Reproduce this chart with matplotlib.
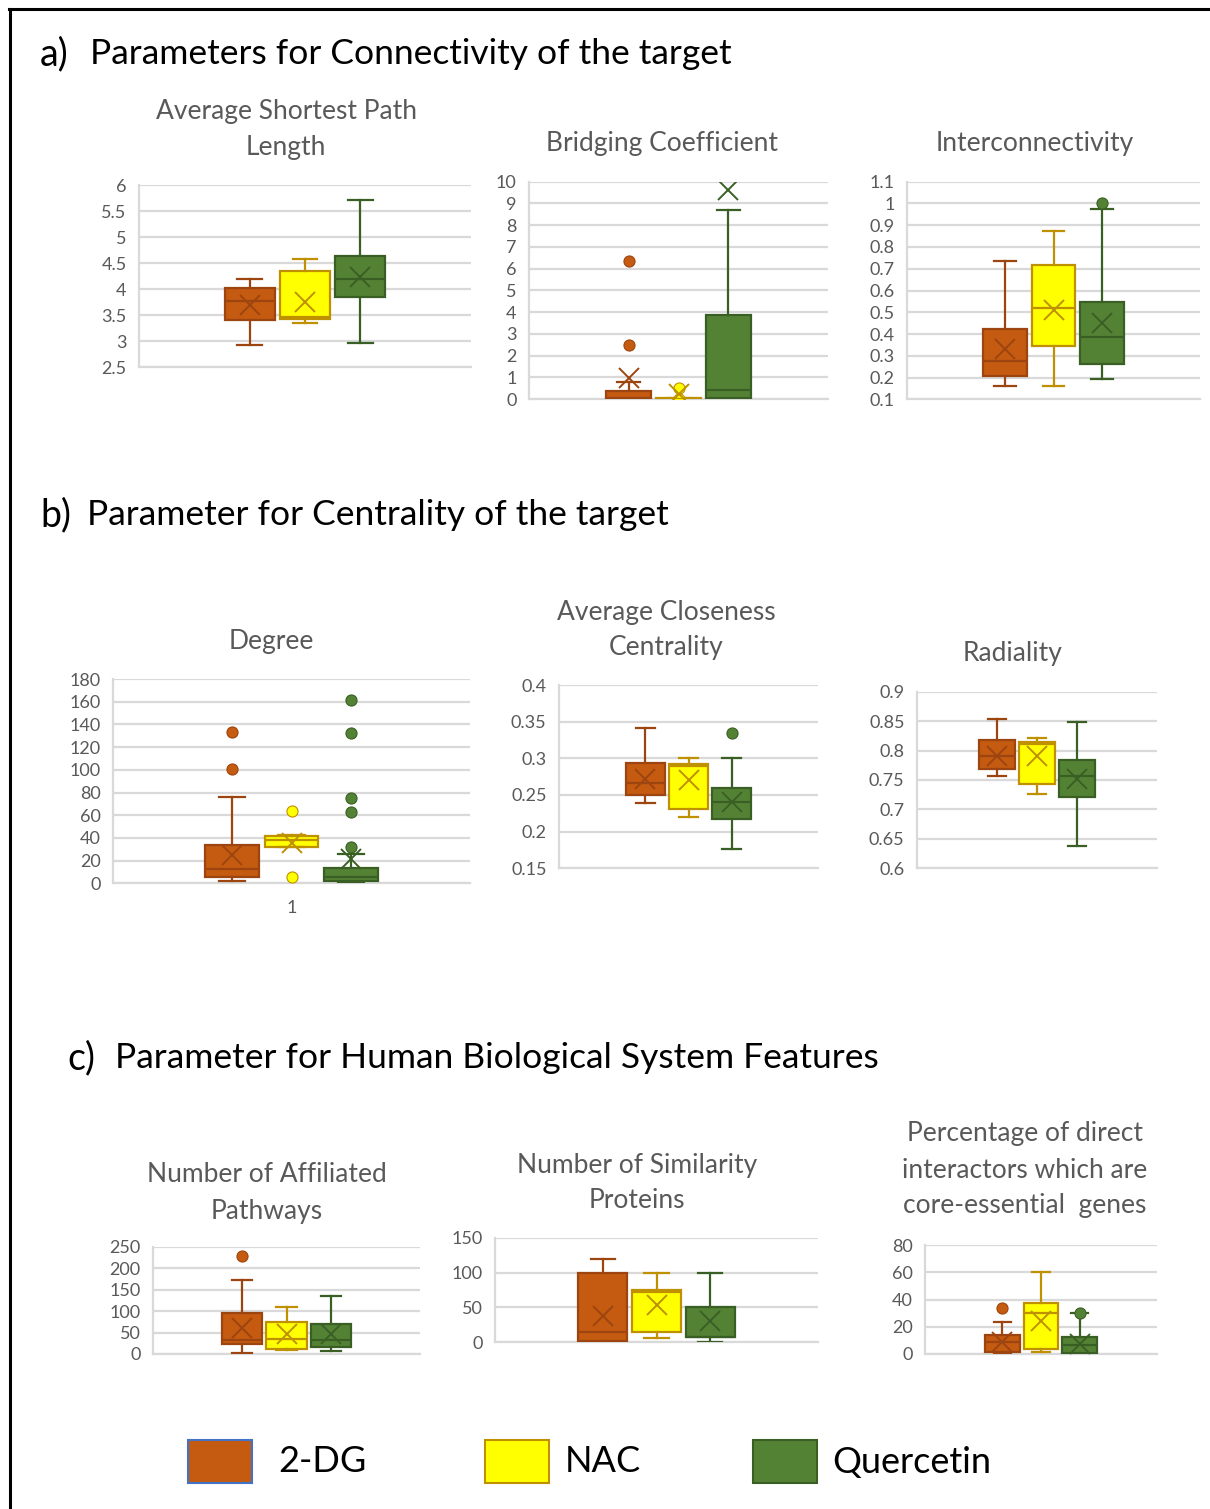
import matplotlib.pyplot as plt
from matplotlib.patches import Rectangle
from matplotlib.lines import Line2D

plt.rcParams['font.family'] = ['Lato', 'DejaVu Sans']

W, H = 1210, 1509

# ---------------- data ----------------
# per group: [low whisker, Q1, median, Q3, high whisker, mean]
GROUPS = ["2-DG", "NAC", "Quercetin"]

asp_stats = [[2.92, 3.40, 3.76, 4.02, 4.20, 3.70],
             [3.34, 3.42, 3.46, 4.34, 4.57, 3.75],
             [2.97, 3.84, 4.19, 4.64, 5.71, 4.24]]
asp_out = [[], [], []]

bridge_stats = [[0.0, 0.02, 0.06, 0.35, 0.80, 0.96],
                [0.0, 0.0, 0.02, 0.04, 0.04, 0.25],
                [0.0, 0.05, 0.43, 3.87, 8.68, 9.62]]
bridge_out = [[6.35, 2.47], [0.5, 0.02], []]

inter_stats = [[0.161, 0.207, 0.276, 0.422, 0.736, 0.331],
               [0.161, 0.347, 0.518, 0.717, 0.875, 0.510],
               [0.195, 0.261, 0.388, 0.549, 0.976, 0.452]]
inter_out = [[], [], [1.0]]

degree_stats = [[2.0, 5.6, 12.9, 33.8, 76.4, 25.0],
                [32.3, 32.3, 37.9, 42.0, 42.6, 35.2],
                [0.9, 2.0, 5.3, 13.8, 25.6, 21.5]]
degree_out = [[133.6, 100.7], [63.7, 5.6], [161.5, 132.4, 74.9, 62.6, 31.7]]

close_stats = [[0.2395, 0.250, 0.266, 0.294, 0.342, 0.2714],
               [0.2195, 0.2305, 0.290, 0.2927, 0.300, 0.2705],
               [0.176, 0.217, 0.241, 0.259, 0.300, 0.241]]
close_out = [[], [], [0.334]]

rad_stats = [[0.757, 0.769, 0.791, 0.818, 0.853, 0.791],
             [0.727, 0.743, 0.811, 0.815, 0.822, 0.791],
             [0.6385, 0.721, 0.757, 0.784, 0.849, 0.752]]
rad_out = [[], [], []]

path_stats = [[3, 23, 33, 95, 172, 61],
              [9, 12, 35, 75, 109, 46],
              [8, 17, 33, 69, 135, 46]]
path_out = [[228], [], []]

sim_stats = [[0, 2, 15, 100, 120, 37],
             [6, 15, 72, 75, 100, 53.5],
             [0, 7, 8, 51, 100, 31]]
sim_out = [[], [], []]

core_stats = [[0, 1.7, 8.6, 14.0, 23.5, 8.6],
              [1.5, 3.7, 29.8, 37.2, 60.4, 24.5],
              [0, 0.5, 6.6, 12.2, 29.8, 7.3]]
core_out = [[33.8], [], [29.8]]

FILL = ["#C55A11", "#FFFF00", "#548235"]
EDGE = ["#9C4510", "#BF9000", "#3A5F24"]
GRAY_TXT = "#595959"
GRID = "#D9D9D9"

fig = plt.figure(figsize=(W / 100, H / 100), dpi=100)


def px_axes(left, right, top, bottom):
    return fig.add_axes([left / W, 1 - bottom / H, (right - left) / W, (bottom - top) / H])


def fig_text(x, y, s, **kw):
    fig.text(x / W, 1 - y / H, s, **kw)


def box_panel(rect, stats, outliers, ylim, step, title_lines, title_x, title_y0,
              xlabel=None, fmt="{:g}"):
    ax = px_axes(*rect)
    for i, (st, out) in enumerate(zip(stats, outliers)):
        lo, q1, med, q3, hi, mean = st
        d = dict(whislo=lo, q1=q1, med=med, q3=q3, whishi=hi, mean=mean, fliers=out)
        ax.bxp([d], positions=[i + 1], widths=0.9, showmeans=True, patch_artist=True,
               boxprops=dict(facecolor=FILL[i], edgecolor=EDGE[i], linewidth=1.6),
               medianprops=dict(color=EDGE[i], linewidth=1.6),
               whiskerprops=dict(color=EDGE[i], linewidth=1.6),
               capprops=dict(color=EDGE[i], linewidth=1.6),
               meanprops=dict(marker='x', markersize=14, markeredgecolor=EDGE[i],
                              markeredgewidth=1.4),
               flierprops=dict(marker='o', markersize=8, markerfacecolor=FILL[i],
                               markeredgecolor=EDGE[i], markeredgewidth=0.8),
               zorder=3)
    ax.set_xlim(-1, 5)
    ax.set_ylim(*ylim)
    n = int(round((ylim[1] - ylim[0]) / step))
    ticks = [ylim[0] + k * step for k in range(n + 1)]
    ax.set_yticks(ticks)
    ax.set_yticklabels([fmt.format(round(t, 4)) for t in ticks])
    ax.grid(axis='y', color=GRID, linewidth=1.6, zorder=0)
    ax.set_axisbelow(True)
    for s in ['top', 'right']:
        ax.spines[s].set_visible(False)
    for s in ['left', 'bottom']:
        ax.spines[s].set_color(GRID)
        ax.spines[s].set_linewidth(1.6)
    ax.tick_params(axis='y', length=0, pad=9, labelsize=13, labelcolor=GRAY_TXT)
    if xlabel:
        ax.set_xticks([2])
        ax.set_xticklabels([xlabel])
        ax.tick_params(axis='x', length=0, pad=12, labelsize=13, labelcolor=GRAY_TXT)
    else:
        ax.set_xticks([])
    ax.set_facecolor('none')
    for k, line in enumerate(title_lines):
        fig_text(title_x, title_y0 + 36 * k, line, ha='center', va='center',
                 fontsize=19, color=GRAY_TXT)
    return ax


# ---------- section a ----------
fig_text(40, 54, "a)", fontsize=27, va='center', ha='left')
fig_text(90, 54, "Parameters for Connectivity of the target", fontsize=25.5, va='center')
box_panel((139, 471, 185, 367), asp_stats, asp_out, (2.5, 6), 0.5,
          ["Average Shortest Path", "Length"], 286, 112)
box_panel((529, 828, 181.7, 399), bridge_stats, bridge_out, (0, 10), 1,
          ["Bridging Coefficient"], 662, 143)
box_panel((907, 1200, 181.7, 399.3), inter_stats, inter_out, (0.1, 1.1), 0.1,
          ["Interconnectivity"], 1035, 143)

# ---------- section b ----------
fig_text(40, 515, "b)", fontsize=27, va='center', ha='left')
fig_text(87, 515, "Parameter for Centrality of the target", fontsize=25.5, va='center')
box_panel((113, 470, 679, 883.3), degree_stats, degree_out, (0, 180), 20,
          ["Degree"], 271, 641, xlabel="1")
box_panel((559, 818, 685, 868.3), close_stats, close_out, (0.15, 0.4), 0.05,
          ["Average Closeness", "Centrality"], 666, 612)
box_panel((917, 1157, 691.7, 868.3), rad_stats, rad_out, (0.6, 0.9), 0.05,
          ["Radiality"], 1013, 653)

# ---------- section c ----------
fig_text(67, 1058, "c)", fontsize=27, va='center', ha='left')
fig_text(115, 1058, "Parameter for Human Biological System Features", fontsize=25.5, va='center')
box_panel((153, 420, 1246.7, 1354), path_stats, path_out, (0, 250), 50,
          ["Number of Affiliated", "Pathways"], 267, 1175)
box_panel((495, 818, 1237.7, 1342.3), sim_stats, sim_out, (0, 150), 50,
          ["Number of Similarity", "Proteins"], 637, 1165)
box_panel((925, 1157, 1245, 1354), core_stats, core_out, (0, 80), 20,
          ["Percentage of direct", "interactors which are", "core-essential  genes"], 1025, 1134)

# ---------- legend ----------
leg_x = [188, 485, 753]
leg_text_x = [278, 565, 832]
leg_edge = ["#4472C4", "#BF9000", "#3A5F24"]
for i, name in enumerate(GROUPS):
    fig.add_artist(Rectangle((leg_x[i] / W, 1 - 1483 / H), 64 / W, 43 / H,
                             facecolor=FILL[i], edgecolor=leg_edge[i], linewidth=1.5,
                             transform=fig.transFigure))
    fig_text(leg_text_x[i], 1462, name, fontsize=26, va='center', ha='left')

# ---------- outer frame ----------
fig.add_artist(Line2D([9 / W, 1], [1 - 8.5 / H, 1 - 8.5 / H], color='black', lw=2.2,
                      transform=fig.transFigure))
fig.add_artist(Line2D([9.5 / W, 9.5 / W], [0, 1 - 8.5 / H], color='black', lw=2.2,
                      transform=fig.transFigure))

fig.savefig("out.png", dpi=100)
